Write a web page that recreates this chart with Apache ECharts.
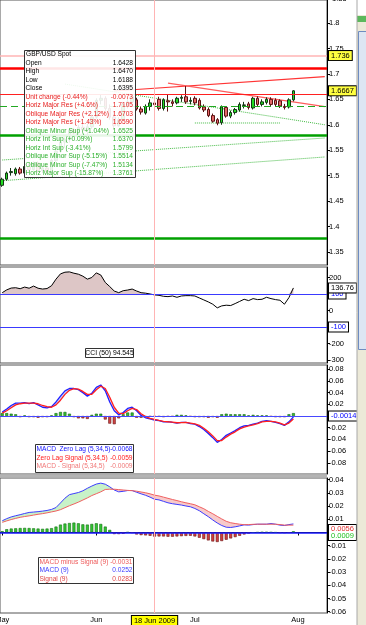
<!DOCTYPE html>
<html><head><meta charset="utf-8">
<script src="https://cdn.jsdelivr.net/npm/echarts@6/dist/echarts.min.js"></script>
<style>html,body{margin:0;padding:0;background:#fff;overflow:hidden}#c{width:366px;height:625px}</style>
</head><body><div id="c"></div>
<script>
// ---------- DATA ----------
const dates = [
 '2009-05-01','2009-05-04','2009-05-05','2009-05-06','2009-05-07','2009-05-08','2009-05-11','2009-05-12','2009-05-13','2009-05-14','2009-05-15',
 '2009-05-18','2009-05-19','2009-05-20','2009-05-21','2009-05-22','2009-05-25','2009-05-26','2009-05-27','2009-05-28','2009-05-29',
 '2009-06-01','2009-06-02','2009-06-03','2009-06-04','2009-06-05','2009-06-08','2009-06-09','2009-06-10','2009-06-11','2009-06-12',
 '2009-06-15','2009-06-16','2009-06-17','2009-06-18','2009-06-19','2009-06-22','2009-06-23','2009-06-24','2009-06-25','2009-06-26',
 '2009-06-29','2009-06-30','2009-07-01','2009-07-02','2009-07-03','2009-07-06','2009-07-07','2009-07-08','2009-07-09','2009-07-10',
 '2009-07-13','2009-07-14','2009-07-15','2009-07-16','2009-07-17','2009-07-20','2009-07-21','2009-07-22','2009-07-23','2009-07-24',
 '2009-07-27','2009-07-28','2009-07-29','2009-07-30','2009-07-31',
 '2009-08-03','2009-08-04','2009-08-05','2009-08-06','2009-08-07','2009-08-10','2009-08-11'];
const monthTickDates = ['2009-05-01','2009-06-01','2009-07-01','2009-08-03'];
const monthTickLabels = ['May','Jun','Jul','Aug'];
const cursorDate = '2009-06-18';
const cursorLabel = '18 Jun 2009';

// open, high, low, close
const ohlc = [
 [1.481,1.496,1.478,1.493],[1.493,1.508,1.490,1.505],[1.506,1.515,1.500,1.508],[1.504,1.516,1.500,1.513],[1.513,1.517,1.502,1.505],
 [1.505,1.522,1.503,1.518],[1.518,1.524,1.508,1.512],[1.512,1.528,1.510,1.525],[1.525,1.528,1.506,1.510],[1.510,1.520,1.505,1.515],
 [1.515,1.522,1.502,1.508],[1.508,1.533,1.505,1.530],[1.530,1.551,1.527,1.548],[1.548,1.570,1.545,1.566],[1.566,1.575,1.555,1.570],
 [1.570,1.594,1.565,1.590],[1.590,1.594,1.580,1.584],[1.584,1.600,1.578,1.595],[1.595,1.605,1.585,1.590],[1.590,1.602,1.580,1.596],
 [1.596,1.620,1.592,1.615],[1.615,1.652,1.612,1.648],[1.648,1.660,1.640,1.652],[1.652,1.656,1.628,1.632],[1.632,1.640,1.610,1.615],
 [1.615,1.622,1.590,1.598],[1.598,1.615,1.596,1.610],[1.610,1.645,1.608,1.640],[1.640,1.652,1.632,1.645],[1.645,1.660,1.638,1.655],
 [1.649,1.653,1.628,1.631],[1.631,1.636,1.620,1.625],[1.623,1.640,1.620,1.636],[1.636,1.650,1.628,1.643],[1.6428,1.6470,1.6188,1.6395],
 [1.650,1.655,1.628,1.632],[1.632,1.652,1.628,1.649],[1.647,1.660,1.626,1.645],[1.645,1.650,1.636,1.642],[1.643,1.655,1.640,1.652],
 [1.652,1.658,1.645,1.654],[1.655,1.676,1.641,1.645],[1.646,1.654,1.640,1.648],[1.652,1.656,1.638,1.643],[1.648,1.652,1.630,1.633],
 [1.635,1.640,1.625,1.629],[1.630,1.634,1.615,1.618],[1.618,1.622,1.604,1.607],[1.610,1.613,1.599,1.603],[1.604,1.638,1.600,1.635],
 [1.634,1.636,1.614,1.617],[1.617,1.628,1.613,1.624],[1.624,1.633,1.620,1.630],[1.629,1.644,1.626,1.640],[1.638,1.645,1.632,1.639],
 [1.641,1.645,1.630,1.634],[1.633,1.655,1.630,1.652],[1.652,1.656,1.636,1.640],[1.640,1.650,1.636,1.645],[1.644,1.654,1.640,1.650],
 [1.650,1.654,1.637,1.640],[1.648,1.652,1.636,1.640],[1.647,1.650,1.633,1.637],[1.636,1.641,1.630,1.634],[1.635,1.652,1.632,1.649],
 [1.649,1.668,1.646,1.6667]];

const horizLevels = [1.736, 1.7105, 1.659, 1.637, 1.5799, 1.3761];
const lastLevelLabel = 1.736;
const obliqueMajorRes = [['2009-06-05',1.6664],['2009-08-11',1.6945]];
const obliqueFallingRes = [['2009-06-23',1.682],['2009-08-11',1.6355]];
const obliqueMinorSupHigh = [['2009-05-21',1.680],['2009-08-11',1.600]];
const obliqueMinorSupMid = [['2009-05-01',1.5307],['2009-08-11',1.574]];
const obliqueMinorSupLow = [['2009-05-01',1.4900],['2009-08-11',1.5367]];
const recentLowSup = [['2009-07-01',1.6035],['2009-07-28',1.6035]];

const infoTitle = 'GBP/USD Spot';
const infoLabels = ['Open','High','Low','Close','Unit change (-0.44%)','Horiz Major Res (+4.6%)','Oblique Major Res (+2.12%)',
 'Horiz Major Res (+1.43%)','Oblique Minor Sup (+1.04%)','Horiz Int Sup (+0.09%)','Horiz Int Sup (-3.41%)',
 'Oblique Minor Sup (-5.15%)','Oblique Minor Sup (-7.47%)','Horiz Major Sup (-15.87%)'];
const infoValues = ['1.6428','1.6470','1.6188','1.6395','-0.0073','1.7105','1.6703','1.6590','1.6525','1.6370','1.5799','1.5514','1.5134','1.3761'];

const cci = [108,125,136,138,132,142,135,148,135,130,133,150,190,222,232,234,226,220,208,190,
 200,228,215,170,145,118,108,120,124,130,118,108,105,100,94.545,92,86,84,88,80,
 88,90,90,88,76,64,52,38,16,28,32,30,42,55,68,60,72,66,68,80,
 72,66,62,38,78,136.76];
const cciLevels = [100,-100];

const zlMacd = [0.007,0.012,0.018,0.022,0.022,0.023,0.021,0.023,0.019,0.015,
 0.014,0.016,0.024,0.034,0.043,0.047,0.047,0.045,0.040,0.034,
 0.039,0.049,0.053,0.043,0.024,0.009,0.002,0.006,0.013,0.015,
 0.009,0.001,-0.003,-0.005,-0.0068,-0.008,-0.010,-0.0097,-0.011,-0.012,
 -0.011,-0.011,-0.013,-0.014,-0.018,-0.023,-0.030,-0.037,-0.045,-0.040,
 -0.033,-0.029,-0.025,-0.020,-0.017,-0.016,-0.014,-0.012,-0.009,-0.008,
 -0.009,-0.011,-0.013,-0.016,-0.010,-0.0014];
const zlSignal = [0.005,0.009,0.014,0.019,0.021,0.022,0.022,0.022,0.021,0.018,
 0.016,0.015,0.019,0.027,0.037,0.044,0.047,0.046,0.042,0.037,
 0.037,0.045,0.051,0.047,0.032,0.015,0.005,0.004,0.009,0.013,
 0.011,0.004,-0.001,-0.004,-0.0059,-0.0075,-0.009,-0.0098,-0.0105,-0.0115,
 -0.0112,-0.011,-0.012,-0.0135,-0.016,-0.021,-0.027,-0.034,-0.042,-0.042,
 -0.036,-0.031,-0.027,-0.022,-0.019,-0.017,-0.015,-0.013,-0.010,-0.009,
 -0.009,-0.010,-0.012,-0.015,-0.012,-0.005];
const zlHist = [0.005,0.005,0.004,0.003,-0.002,0.001,-0.002,-0.002,-0.003,-0.002,
 -0.002,0.001,0.005,0.007,0.007,0.004,-0.002,-0.004,-0.004,-0.005,
 0.002,0.004,0.004,-0.006,-0.013,-0.014,-0.004,0.003,0.006,0.006,
 -0.003,-0.003,-0.002,-0.001,-0.0009,-0.001,-0.002,-0.001,-0.001,0.002,
 0.002,0.001,-0.001,-0.002,-0.002,-0.002,-0.003,-0.002,-0.003,0.003,
 0.004,0.003,0.003,0.003,0.003,0.001,0.002,0.001,0.001,0.001,
 -0.001,-0.002,-0.002,-0.002,0.003,0.005];

const macdLine = [0.0089,0.0105,0.0118,0.0127,0.0135,0.0144,0.0152,0.0155,0.0158,0.0162,
 0.0167,0.0175,0.0189,0.0224,0.0260,0.0287,0.0295,0.0303,0.0316,0.0335,
 0.0352,0.0367,0.0374,0.0366,0.0346,0.0322,0.0308,0.0312,0.0318,0.0318,
 0.0305,0.0293,0.0282,0.0268,0.0252,0.0247,0.0236,0.0225,0.0218,0.0213,
 0.0208,0.0201,0.0195,0.0182,0.0165,0.0142,0.0120,0.0095,0.0072,0.0053,
 0.0040,0.0038,0.0043,0.0050,0.0058,0.0056,0.0060,0.0063,0.0063,0.0063,
 0.0068,0.0063,0.0056,0.0053,0.0060,0.0065];
const macdSignal = [0.0077,0.0088,0.0098,0.0107,0.0115,0.0121,0.0126,0.0132,0.0138,0.0143,
 0.0149,0.0156,0.0163,0.0173,0.0188,0.0203,0.0216,0.0230,0.0246,0.0262,
 0.0280,0.0294,0.0308,0.0326,0.0328,0.0328,0.0325,0.0322,0.0319,0.0317,
 0.0313,0.0307,0.0301,0.0293,0.0283,0.0277,0.0268,0.0259,0.0250,0.0242,
 0.0233,0.0225,0.0218,0.0210,0.0195,0.0180,0.0160,0.0142,0.0122,0.0103,
 0.0085,0.0074,0.0068,0.0063,0.0059,0.0060,0.0062,0.0063,0.0063,0.0063,
 0.0063,0.0063,0.0060,0.0056,0.0056,0.0056];
const macdHist = [0.0010,0.0025,0.0030,0.0032,0.0034,0.0035,0.0034,0.0032,0.0030,0.0028,
 0.0030,0.0033,0.0045,0.0060,0.0068,0.0072,0.0075,0.0070,0.0062,0.0060,
 0.0065,0.0070,0.0065,0.0045,0.0020,-0.0012,-0.0012,-0.0010,0.0003,-0.0002,
 -0.0015,-0.0020,-0.0022,-0.0025,-0.0031,-0.0030,-0.0030,-0.0032,-0.0032,-0.0030,
 -0.0028,-0.0026,-0.0025,-0.0030,-0.0040,-0.0050,-0.0060,-0.0068,-0.0072,-0.0065,
 -0.0055,-0.0045,-0.0035,-0.0025,-0.0015,-0.0008,0.0000,0.0002,0.0004,0.0004,
 0.0003,0.0001,-0.0002,-0.0003,-0.0001,0.0009];

// ---------- BUILD ----------
const FONT = 'Liberation Sans';
const ci = dates.indexOf(cursorDate);
const candles = ohlc.map(r => [r[0], r[3], r[2], r[1]]);
const lastClose = ohlc[ohlc.length-1][3];

const chart = echarts.init(document.getElementById('c'), null, {renderer:'canvas', width:366, height:625});

const gridDefs = [[0,265],[267,96],[365,109],[478,135]];
const grids = gridDefs.map(g => ({left:0, width:327, top:g[0], height:g[1], show:true, borderColor:'#555', borderWidth:1,
  backgroundColor:'transparent', containLabel:false, outerBoundsMode:'none'}));

const xAxes = [0,1,2,3].map(i => ({
  type:'category', gridIndex:i, data:dates, boundaryGap:true,
  axisLine:{show:i===3, lineStyle:{color:'#000'}},
  axisTick:{show:i===3, alignWithLabel:true, length:3, lineStyle:{color:'#000'},
    interval:(idx,val)=>monthTickDates.indexOf(val)>=0},
  axisLabel:{show:i===3, fontSize:7.5, fontFamily:FONT, color:'#000', margin:3,
    interval:(idx,val)=>monthTickDates.indexOf(val)>=0 || val===cursorDate,
    formatter:(val)=> val===cursorDate ? '{hl|'+cursorLabel+'}' : (monthTickLabels[monthTickDates.indexOf(val)]||''),
    rich:{hl:{backgroundColor:'#ffff00', borderColor:'#000', borderWidth:1, padding:[1,2,0,2], fontSize:7.5, fontFamily:FONT, color:'#000'}}},
  splitLine:{show:false}
}));

function yAx(gi, min, max, step, fmt){
  return {type:'value', gridIndex:gi, position:'right', min:min, max:max,
    splitNumber:Math.round((max-min)/step), minInterval:step, maxInterval:step,
    axisLine:{show:true, lineStyle:{color:'#000'}},
    axisTick:{show:true, length:3, lineStyle:{color:'#000'}},
    axisLabel:{show:true, fontSize:7.5, fontFamily:FONT, color:'#000', margin:2, showMinLabel:false, showMaxLabel:false, formatter:fmt},
    splitLine:{show:false}};
}
const near = (a,b)=>Math.abs(a-b)<1e-9;
const yAxes = [
  yAx(0, 1.3244, 1.8452, 0.05, v=>String(+v.toFixed(2))),
  yAx(1, -318.2, 263.6, 100, v=> (near(v,100)||near(v,-100)) ? '' : String(Math.round(v))),
  yAx(2, -0.0991, 0.0872, 0.02, v=> near(v,0) ? '' : String(+v.toFixed(2))),
  yAx(3, -0.061, 0.0413, 0.01, v=> near(v,0) ? '' : String(+v.toFixed(2)))
];

const boxLabel = (txt, color, bg) => ({show:true, position:'end', distance:2, formatter:txt,
  color:color, backgroundColor:bg||'#fff', borderColor:'#000', borderWidth:1, padding:[1,2,0,2],
  fontSize:7.5, fontFamily:FONT, lineHeight:8});
const cursorLine = {xAxis:cursorDate, lineStyle:{color:'#ffb4b4', width:1, type:'solid'}, label:{show:false}};
const hidden = {show:false};
const noLine = {color:'rgba(0,0,0,0)', width:0.01, type:'solid'};

const priceLevelStyles = [
  {color:'#ffb4b4', width:1.5},
  {color:'#ff0000', width:2.5},
  {color:'#ff2020', width:1},
  {color:'#22a822', width:1, type:[7,4]},
  {color:'#00a000', width:2.5},
  {color:'#00a000', width:2.5}
];
const priceMarks = horizLevels.map((v,i)=>({yAxis:v, lineStyle:Object.assign({type:'solid'}, priceLevelStyles[i]),
   label: v===lastLevelLabel ? boxLabel(String(v),'#000','#ffff40') : hidden}));
priceMarks.push({yAxis:lastClose, lineStyle:noLine, label:boxLabel(lastClose.toFixed(4),'#000','#ffff40')});
priceMarks.push(cursorLine);

function trend(data, color, type, width){
  return {type:'line', xAxisIndex:0, yAxisIndex:0, data:data, symbol:'none', silent:true, z:3,
    lineStyle:{color:color, width:width||1, type:type||'solid'}};
}

function fillPair(stackName, gi, base, diff, color){
  return [
    {type:'line', xAxisIndex:gi, yAxisIndex:gi, stack:stackName, stackStrategy:'all', data:base, symbol:'none', silent:true,
      lineStyle:{opacity:0, width:0}, z:1},
    {type:'line', xAxisIndex:gi, yAxisIndex:gi, stack:stackName, stackStrategy:'all', data:diff, symbol:'none', silent:true,
      lineStyle:{opacity:0, width:0}, areaStyle:{color:color, opacity:1}, z:1}
  ];
}
const zlMin = zlMacd.map((v,i)=>Math.min(v, zlSignal[i]));
const mMin = macdLine.map((v,i)=>Math.min(v, macdSignal[i]));

const histData = (arr, pos, neg, posB, negB) => arr.map(v => ({value:v,
  itemStyle:{color: v>=0 ? pos : neg, borderColor: v>=0 ? posB : negB, borderWidth:0.6}}));

const lastSig = macdSignal[macdSignal.length-1], lastHist = macdHist[macdHist.length-1];
const macdEndLabel = {show:true, position:'end', distance:2,
  formatter:'{r|'+lastSig.toFixed(4)+'}\n{g|'+lastHist.toFixed(4)+'}',
  backgroundColor:'#fff', borderColor:'#000', borderWidth:1, padding:[0,2,0,2],
  rich:{r:{color:'#e03030', fontSize:7.5, fontFamily:FONT, lineHeight:7.5},
        g:{color:'#20c020', fontSize:7.5, fontFamily:FONT, lineHeight:7.5}}};

const series = [
  // ---- price ----
  {type:'candlestick', name:'GBP/USD', xAxisIndex:0, yAxisIndex:0, data:candles, barWidth:3, z:4,
    itemStyle:{color:'#22dd22', color0:'#e46868', borderColor:'#153515', borderColor0:'#5a1212', borderWidth:1},
    markLine:{silent:true, symbol:['none','none'], precision:4, data:priceMarks}},
  trend(obliqueMajorRes, '#ff3434', 'solid', 1.2),
  trend(obliqueFallingRes, '#ff5c5c', 'solid', 1.2),
  trend(obliqueMinorSupHigh, '#44bb44', 'dotted', 1),
  trend(obliqueMinorSupMid, '#44bb44', 'dotted', 1),
  trend(obliqueMinorSupLow, '#44bb44', 'dotted', 1),
  trend(recentLowSup, '#44bb44', 'dotted', 1),
  // ---- CCI ----
  ...fillPair('cci', 1, cci.map(()=>cciLevels[0]), cci.map(v=>Math.max(v-cciLevels[0],0)), '#ddc6c6'),
  {type:'line', name:'CCI (50)', xAxisIndex:1, yAxisIndex:1, data:cci, symbol:'none', z:3,
    lineStyle:{color:'#000', width:1},
    markLine:{silent:true, symbol:['none','none'], data:[
      {yAxis:cciLevels[0], lineStyle:{color:'#3a3aff', width:1, type:'solid'}, label:boxLabel(String(cciLevels[0]),'#0000ff')},
      {yAxis:cciLevels[1], lineStyle:{color:'#3a3aff', width:1, type:'solid'}, label:boxLabel(String(cciLevels[1]),'#0000ff')},
      {yAxis:cci[cci.length-1], lineStyle:noLine, label:boxLabel(cci[cci.length-1].toFixed(2),'#000')},
      cursorLine]}},
  // ---- MACD Zero Lag ----
  ...fillPair('zlA', 2, zlMin, zlMacd.map((v,i)=>Math.max(v-zlSignal[i],0)), '#c6ceff'),
  ...fillPair('zlB', 2, zlMin, zlMacd.map((v,i)=>Math.max(zlSignal[i]-v,0)), '#ffd2d2'),
  {type:'bar', name:'MACD - Signal (5,34,5)', xAxisIndex:2, yAxisIndex:2, barWidth:3, z:2,
    data:histData(zlHist,'#33c033','#d04444','#116611','#6a1a1a'),
    markLine:{silent:true, symbol:['none','none'], data:[
      {yAxis:0, lineStyle:{color:'#4848ff', width:1, type:'solid'}, label:boxLabel(zlMacd[zlMacd.length-1].toFixed(4),'#0000ff')},
      cursorLine]}},
  {type:'line', name:'MACD Zero Lag (5,34,5)', xAxisIndex:2, yAxisIndex:2, data:zlMacd, symbol:'none', z:3, lineStyle:{color:'#2020ff', width:1.3}},
  {type:'line', name:'Zero Lag Signal (5,34,5)', xAxisIndex:2, yAxisIndex:2, data:zlSignal, symbol:'none', z:3, lineStyle:{color:'#ff2020', width:1.3}},
  // ---- MACD ----
  ...fillPair('mA', 3, mMin, macdLine.map((v,i)=>Math.max(v-macdSignal[i],0)), '#c8f2c8'),
  ...fillPair('mB', 3, mMin, macdLine.map((v,i)=>Math.max(macdSignal[i]-v,0)), '#f7caca'),
  {type:'bar', name:'MACD minus Signal (9)', xAxisIndex:3, yAxisIndex:3, barWidth:3, z:2,
    data:histData(macdHist,'#33c533','#d04040','#137013','#6a1515'),
    markLine:{silent:true, symbol:['none','none'], data:[
      {yAxis:0, lineStyle:{color:'#1a1aff', width:1.5, type:'solid'}, label:hidden},
      {yAxis:(lastSig+lastHist)/2, lineStyle:noLine, label:macdEndLabel},
      cursorLine]}},
  {type:'line', name:'MACD (9)', xAxisIndex:3, yAxisIndex:3, data:macdLine, symbol:'none', z:3, lineStyle:{color:'#3c3cff', width:1}},
  {type:'line', name:'Signal (9)', xAxisIndex:3, yAxisIndex:3, data:macdSignal, symbol:'none', z:3, lineStyle:{color:'#f06060', width:1}}
];

// ---------- GRAPHIC (legend boxes, chrome) ----------
const G = [];
function txt(t, x, y, color, align, size){
  G.push({type:'text', z:101, silent:true, style:{text:t, x:x, y:y, fill:color, font:(size||6.6)+'px "'+FONT+'"',
    align:align||'left', textAlign:align||'left', verticalAlign:'middle', textVerticalAlign:'middle'}});
}
function box(x,y,w,h,fill){
  G.push({type:'rect', z:100, silent:true, shape:{x:x,y:y,width:w,height:h}, style:{fill:fill||'#fff', stroke:'#333', lineWidth:1}});
}
// price info box
box(24.5,50.5,111,127,'rgba(255,255,255,0.9)');
txt(infoTitle, 26, 54.5, '#000');
infoLabels.forEach((lab,i)=>{
  const col = i<4 ? '#000' : (/Res|Unit/.test(lab) ? '#e81c1c' : '#2cb02c');
  const y = 63 + i*8.5;
  txt(lab, 25.5, y, col);
  txt(infoValues[i], 133, y, col, 'right');
});
// CCI box
box(85.5,348.5,48,9);
txt('CCI (50) '+cci[ci], 109.5, 353, '#000', 'center', 6.8);
// ZL legend
box(35.5,444.5,98,28);
const zlRows = [['MACD  Zero Lag (5,34,5)', zlMacd[ci], '#1010ff'], ['Zero Lag Signal (5,34,5)', zlSignal[ci], '#ff1a1a'], ['MACD - Signal (5,34,5)', zlHist[ci], '#f07878']];
zlRows.forEach((r,i)=>{ txt(r[0], 36.5, 449.5+i*8.5, r[2]); txt(r[1].toFixed(4), 132.5, 449.5+i*8.5, r[2], 'right'); });
// MACD legend
box(38.5,557.5,95,26);
const mRows = [['MACD minus Signal (9)', macdHist[ci], '#ee5a5a'], ['MACD (9)', macdLine[ci], '#3c3cff'], ['Signal (9)', macdSignal[ci], '#e04848']];
mRows.forEach((r,i)=>{ txt(r[0], 39.5, 562+i*8.5, r[2]); txt(r[1].toFixed(4), 132.5, 562+i*8.5, r[2], 'right'); });
// partially visible top price label
txt('1.85', 332, -1, '#000', 'left', 7.5);
// separator between ZL and MACD
G.push({type:'rect', z:100, silent:true, shape:{x:0,y:474.5,width:327,height:3}, style:{fill:'#b4b4b4'}});
// window chrome at the right
G.push({type:'rect', z:100, silent:true, shape:{x:357,y:0,width:9,height:625}, style:{fill:'#ece9d8'}});
G.push({type:'rect', z:100, silent:true, shape:{x:357,y:0,width:9,height:15}, style:{fill:'#ffffff'}});
G.push({type:'rect', z:100, silent:true, shape:{x:357,y:16,width:9,height:6}, style:{fill:'#5cb85c'}});
G.push({type:'rect', z:100, silent:true, shape:{x:358.5,y:31.5,width:8,height:318}, style:{fill:'#dde6f3', stroke:'#6f8cc0', lineWidth:1}});
G.push({type:'line', z:100, silent:true, shape:{x1:357,y1:0,x2:357,y2:625}, style:{stroke:'#a8a8a8', lineWidth:1}});

chart.setOption({
  animation:false,
  backgroundColor:'#fff',
  textStyle:{fontFamily:FONT},
  grid:grids, xAxis:xAxes, yAxis:yAxes, series:series, graphic:G
});
</script>
</body></html>
